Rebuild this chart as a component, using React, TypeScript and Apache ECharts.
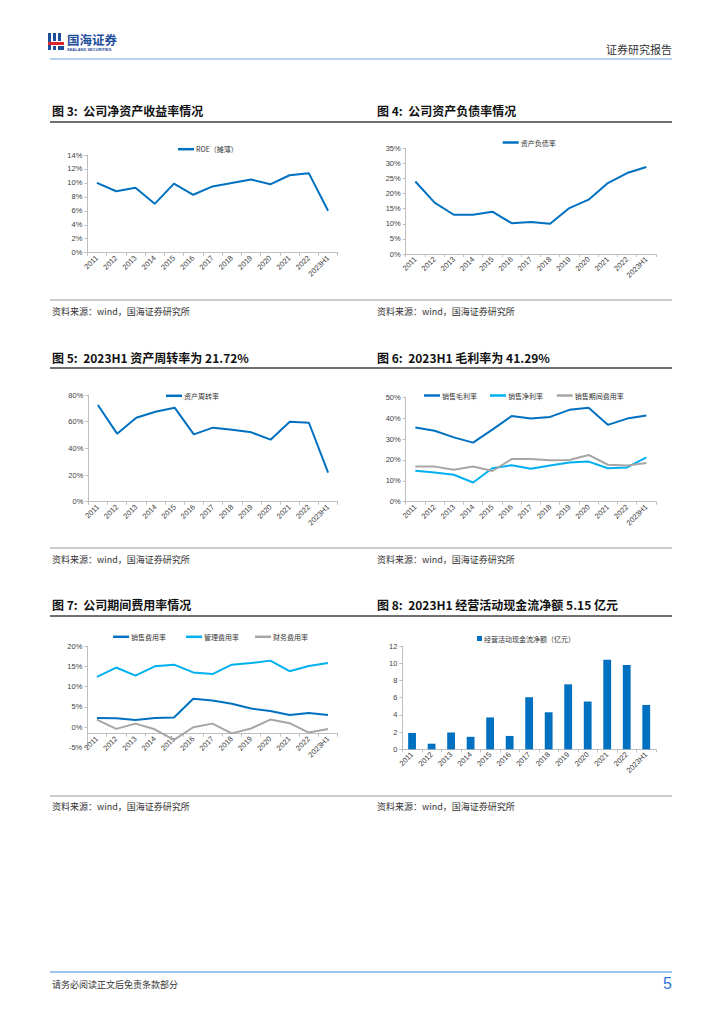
import React, { useEffect, useRef } from "react";
import * as echarts from "echarts";

const years = ["2011", "2012", "2013", "2014", "2015", "2016", "2017", "2018", "2019", "2020", "2021", "2022", "2023H1"];
const roe = [10.0, 8.8, 9.3, 7.0, 9.9, 8.3, 9.5, 10.0, 10.5, 9.8, 11.1, 11.4, 6.0];
const debtRatio = [24.0, 17.0, 13.0, 13.0, 14.0, 10.2, 10.6, 10.0, 15.2, 18.0, 23.5, 26.8, 28.8];
const assetTurnover = [72.5, 51.0, 63.0, 67.5, 70.5, 50.5, 55.5, 54.0, 52.0, 46.5, 60.0, 59.2, 21.72];
const grossMargin = [35.5, 34.0, 30.8, 28.3, 34.5, 41.0, 39.8, 40.6, 44.0, 45.0, 36.8, 39.8, 41.29];
const netMargin = [14.8, 14.0, 12.9, 9.2, 16.0, 17.5, 15.8, 17.3, 18.8, 19.2, 16.0, 16.4, 21.2];
const periodExpense = [16.8, 16.8, 15.3, 16.9, 14.7, 20.4, 20.5, 19.8, 20.0, 22.4, 17.7, 17.3, 18.5];
const sellingExp = [2.3, 2.2, 1.8, 2.3, 2.4, 7.0, 6.6, 5.8, 4.6, 4.0, 3.0, 3.5, 3.0];
const adminExp = [12.4, 14.7, 12.7, 15.0, 15.4, 13.5, 13.1, 15.4, 15.8, 16.4, 13.8, 15.1, 15.8];
const financeExp = [1.9, -0.4, 0.9, -0.5, -3.1, 0.0, 0.9, -1.5, -0.3, 1.9, 1.0, -1.3, -0.4];
const opCashFlow = [1.9, 0.65, 1.95, 1.45, 3.7, 1.55, 6.05, 4.3, 7.55, 5.55, 10.4, 9.8, 5.15];

const titles = [
  "图 3:  公司净资产收益率情况",
  "图 4:  公司资产负债率情况",
  "图 5:  2023H1 资产周转率为 21.72%",
  "图 6:  2023H1 毛利率为 41.29%",
  "图 7:  公司期间费用率情况",
  "图 8:  2023H1 经营活动现金流净额 5.15 亿元",
];
const sourceText = "资料来源：wind，国海证券研究所";

const DARK = "#0070C0";
const LIGHT = "#00B0F0";
const GRAY = "#A6A6A6";
const AXIS = "#BFBFBF";
const CJK = "'Noto Sans CJK SC', 'Noto Sans', sans-serif";
const NUM = "'Liberation Sans', Arial, sans-serif";

function xAx(gridIndex: number, offset = 0) {
  return {
    type: "category",
    gridIndex,
    data: years,
    boundaryGap: true,
    offset,
    axisLine: { show: true, onZero: false, lineStyle: { color: AXIS, width: 1 } },
    axisTick: { show: true, length: 3, lineStyle: { color: AXIS } },
    axisLabel: { rotate: 45, interval: 0, fontSize: 7.5, color: "#404040", fontFamily: NUM, margin: 4 },
  };
}

function yAx(gridIndex: number, min: number, max: number, interval: number, pct: boolean) {
  return {
    type: "value",
    gridIndex,
    min,
    max,
    interval,
    axisLine: { show: true, lineStyle: { color: AXIS, width: 1 } },
    axisTick: { show: true, length: 3, lineStyle: { color: AXIS } },
    splitLine: { show: false },
    axisLabel: {
      fontSize: 7.5,
      color: "#404040",
      fontFamily: NUM,
      margin: 5,
      formatter: pct ? "{value}%" : "{value}",
    },
  };
}

function lineSeries(name: string, data: number[], idx: number, color: string) {
  return {
    type: "line",
    name,
    data,
    xAxisIndex: idx,
    yAxisIndex: idx,
    symbol: "none",
    lineStyle: { width: 2, color },
    itemStyle: { color },
  };
}

function legendAt(name: string, left: number, centerY: number, bar = false) {
  return {
    data: [name],
    left,
    top: centerY - 5,
    padding: 0,
    icon: "rect",
    itemWidth: bar ? 5 : 16,
    itemHeight: bar ? 5 : 2.5,
    itemGap: 2,
    textStyle: { fontSize: 7, color: "#333", fontFamily: CJK, padding: [0, 0, 0, -3] },
    selectedMode: false,
  };
}

function txt(text: string, x: number, y: number, size: number, opts: any = {}) {
  return {
    type: "text",
    x,
    y,
    silent: true,
    style: {
      text,
      fontSize: size,
      fontFamily: opts.family || CJK,
      fontWeight: opts.weight || "normal",
      fill: opts.color || "#222",
      align: opts.align || "left",
      verticalAlign: "middle",
    },
  };
}

function hline(x1: number, x2: number, y: number, color: string, w: number) {
  return {
    type: "line",
    silent: true,
    shape: { x1, y1: y, x2, y2: y },
    style: { stroke: color, lineWidth: w },
  };
}

export default function App() {
  const ref = useRef<HTMLDivElement>(null);

  useEffect(() => {
    if (!ref.current) return;
    const chart = echarts.init(ref.current, undefined, { renderer: "svg" });

    const rowTitleY = [110, 357, 604];
    const rowTitleLineY = [122, 368, 616];
    const rowSrcLineY = [300, 548, 796];
    const rowSrcY = [311, 559, 806];

    const graphics: any[] = [];
    // header logo
    graphics.push({ type: "rect", silent: true, shape: { x: 48, y: 33, width: 3, height: 17 }, style: { fill: "#1F4E9C" } });
    graphics.push({ type: "rect", silent: true, shape: { x: 53, y: 33, width: 3, height: 8 }, style: { fill: "#1F4E9C" } });
    graphics.push({ type: "rect", silent: true, shape: { x: 58, y: 33, width: 3, height: 8 }, style: { fill: "#1F4E9C" } });
    graphics.push({ type: "rect", silent: true, shape: { x: 48, y: 42, width: 16, height: 3 }, style: { fill: "#D9262C" } });
    graphics.push({ type: "rect", silent: true, shape: { x: 53, y: 46, width: 3, height: 4 }, style: { fill: "#1F4E9C" } });
    graphics.push({ type: "rect", silent: true, shape: { x: 58, y: 46, width: 6, height: 4 }, style: { fill: "#1F4E9C" } });
    graphics.push(txt("国海证券", 67, 39, 12.5, { weight: "bold", color: "#1F4E9C" }));
    graphics.push(txt("SEALAND SECURITIES", 67, 49.5, 4, { weight: "bold", color: "#1F4E9C", family: NUM }));
    graphics.push(txt("证券研究报告", 672, 49, 11, { color: "#333", align: "right" }));
    graphics.push(hline(50, 672, 59, "#6FA8E8", 1.2));
    // footer
    graphics.push(hline(50, 672, 972, "#3F8BE0", 1.2));
    graphics.push(txt("请务必阅读正文后免责条款部分", 52, 984, 9, { color: "#333" }));
    graphics.push(txt("5", 672, 983, 16, { color: "#2E75D6", align: "right", family: NUM }));

    for (let r = 0; r < 3; r++) {
      graphics.push(txt(titles[r * 2], 52, rowTitleY[r], 12, { weight: "bold", color: "#111" }));
      graphics.push(txt(titles[r * 2 + 1], 377, rowTitleY[r], 12, { weight: "bold", color: "#111" }));
      graphics.push(hline(50, 672, rowTitleLineY[r], "#404040", 1.5));
      graphics.push(hline(50, 672, rowSrcLineY[r], "#808080", 0.8));
      graphics.push(txt(sourceText, 52, rowSrcY[r], 9, { color: "#333" }));
      graphics.push(txt(sourceText, 377, rowSrcY[r], 9, { color: "#333" }));
    }

    const grids = [
      { left: 87.3, top: 155, width: 250.4, height: 97.7 },
      { left: 405.7, top: 148.3, width: 250.3, height: 105.7 },
      { left: 88.3, top: 395, width: 249.4, height: 106.7 },
      { left: 405.7, top: 397.3, width: 250.3, height: 104.4 },
      { left: 87.3, top: 646, width: 250.4, height: 101.6 },
      { left: 402.3, top: 646, width: 253.7, height: 103.3 },
    ];

    const option: any = {
      animation: false,
      backgroundColor: "#ffffff",
      grid: grids.map((g) => ({ ...g, containLabel: false })),
      xAxis: [xAx(0), xAx(1), xAx(2), xAx(3), xAx(4, -14), xAx(5)],
      yAxis: [
        yAx(0, 0, 14, 2, true),
        yAx(1, 0, 35, 5, true),
        yAx(2, 0, 80, 20, true),
        yAx(3, 0, 50, 10, true),
        yAx(4, -5, 20, 5, true),
        yAx(5, 0, 12, 2, false),
      ],
      legend: [
        legendAt("ROE（摊薄）", 178, 150.7),
        legendAt("资产负债率", 502.7, 144),
        legendAt("资产周转率", 166, 397.3),
        legendAt("销售毛利率", 424, 397),
        legendAt("销售净利率", 490, 397),
        legendAt("销售期间费用率", 556.7, 397),
        legendAt("销售费用率", 113, 638.3),
        legendAt("管理费用率", 186, 638.3),
        legendAt("财务费用率", 255, 638.3),
        legendAt("经营活动现金流净额（亿元）", 477, 640, true),
      ],
      series: [
        lineSeries("ROE（摊薄）", roe, 0, DARK),
        lineSeries("资产负债率", debtRatio, 1, DARK),
        lineSeries("资产周转率", assetTurnover, 2, DARK),
        lineSeries("销售毛利率", grossMargin, 3, DARK),
        lineSeries("销售净利率", netMargin, 3, LIGHT),
        lineSeries("销售期间费用率", periodExpense, 3, GRAY),
        lineSeries("销售费用率", sellingExp, 4, DARK),
        lineSeries("管理费用率", adminExp, 4, LIGHT),
        lineSeries("财务费用率", financeExp, 4, GRAY),
        {
          type: "bar",
          name: "经营活动现金流净额（亿元）",
          data: opCashFlow,
          xAxisIndex: 5,
          yAxisIndex: 5,
          barWidth: "40%",
          itemStyle: { color: DARK },
        },
      ],
      graphic: graphics,
    };

    chart.setOption(option);
    return () => chart.dispose();
  }, []);

  return (
    <div
      ref={ref}
      style={{ position: "fixed", left: 0, top: 0, width: 724, height: 1024, background: "#fff" }}
    />
  );
}
